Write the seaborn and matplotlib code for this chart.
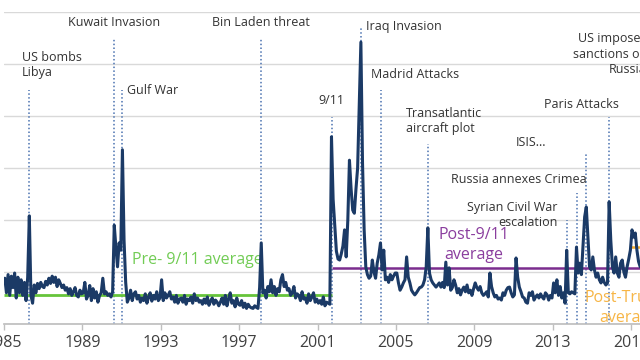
import numpy as np
import pandas as pd
import matplotlib
matplotlib.use("Agg")
import matplotlib.pyplot as plt
import seaborn as sns

# --- dados (índice mensal, jan..dez) ---
gpr_1985_1992 = [
    88, 60, 95, 55, 92, 70, 98, 50, 90, 60, 85, 55,      # 1985
    80, 45, 90, 208, 55, 40, 75, 60, 78, 68, 80, 72,     # 1986
    70, 82, 75, 88, 78, 92, 80, 90, 72, 85, 78, 70,      # 1987
    75, 65, 70, 58, 68, 55, 62, 70, 55, 52, 65, 58,      # 1988
    60, 80, 48, 55, 74, 45, 68, 50, 62, 42, 55, 60,      # 1989
    88, 58, 62, 55, 58, 52, 62, 190, 148, 110, 156, 142, # 1990
    335, 161, 80, 42, 50, 65, 45, 58, 62, 48, 55, 42,    # 1991
    50, 45, 58, 40, 52, 60, 44, 55, 48, 62, 45, 50,      # 1992
]
gpr_1993_2000 = [
    85, 45, 60, 50, 55, 62, 48, 52, 42, 55, 40, 48,      # 1993
    50, 42, 55, 38, 48, 45, 52, 40, 58, 45, 50, 42,      # 1994
    45, 38, 48, 40, 52, 36, 44, 50, 38, 46, 42, 35,      # 1995
    42, 50, 38, 55, 35, 48, 60, 40, 45, 33, 50, 38,      # 1996
    36, 45, 32, 40, 30, 38, 33, 31, 30, 35, 32, 30,      # 1997
    70, 156, 60, 65, 50, 72, 62, 85, 60, 72, 55, 68,     # 1998
    62, 85, 95, 72, 80, 65, 68, 55, 60, 72, 50, 58,      # 1999
    55, 45, 62, 48, 50, 40, 58, 45, 52, 60, 42, 48,      # 2000
]
gpr_2001_2008 = [
    40, 45, 38, 52, 35, 42, 40, 38, 360, 240, 190, 140,  # 2001
    125, 123, 135, 150, 181, 129, 200, 315, 260, 219, 213, 260,  # 2002
    300, 420, 542, 310, 181, 110, 95, 88, 92, 123, 100, 88,      # 2003
    117, 133, 156, 104, 142, 85, 90, 80, 95, 85, 92, 98,  # 2004
    98, 79, 65, 71, 79, 85, 129, 90, 79, 65, 60, 56,      # 2005
    60, 65, 70, 71, 75, 85, 110, 185, 98, 85, 79, 75,     # 2006
    71, 75, 79, 71, 80, 70, 119, 75, 108, 65, 70, 85,     # 2007
    75, 60, 68, 56, 65, 71, 62, 75, 60, 65, 55, 68,       # 2008
]
gpr_2009_2017 = [
    79, 70, 65, 72, 60, 55, 58, 62, 52, 98, 72, 60,       # 2009
    52, 55, 48, 50, 46, 60, 55, 65, 70, 71, 60, 52,       # 2010
    56, 127, 90, 71, 62, 52, 50, 42, 40, 60, 55, 62,      # 2011
    46, 52, 56, 50, 58, 52, 48, 60, 56, 46, 55, 50,       # 2012
    79, 60, 85, 55, 72, 50, 60, 40, 142, 60, 58, 62,      # 2013
    60, 58, 148, 98, 117, 95, 150, 206, 225, 167, 110, 104,  # 2014
    129, 104, 90, 98, 85, 79, 90, 80, 75, 79, 235, 161,   # 2015
    110, 98, 129, 98, 90, 117, 123, 100, 90, 110, 125, 142,  # 2016
    181, 167, 175, 142, 120, 110,                         # 2017
]

media_pre_911 = 56
media_pos_911 = 108
media_pos_trump = 148

eventos = ["US bombs\nLibya", "Kuwait Invasion", "Gulf War", "Bin Laden threat",
           "9/11", "Iraq Invasion", "Madrid Attacks", "Transatlantic\naircraft plot",
           "Syrian Civil War\nescalation", "Russia annexes Crimea", "ISIS...",
           "Paris Attacks", "US imposes\nsanctions on\nRussia"]
datas_eventos = [1986.29, 1990.62, 1991.04, 1998.12, 2001.71, 2003.21, 2004.21,
                 2006.62, 2013.71, 2014.21, 2014.71, 2015.87, 2017.62]

# layout das anotações: (x do texto, y do texto, alinhamento, topo da linha pontilhada)
layout_eventos = [
    (1985.92, 498, "left", 450),
    (1990.62, 579, "center", 550),
    (1991.30, 450, "left", 450),
    (1998.12, 579, "center", 550),
    (2001.70, 429, "center", 398),
    (2003.47, 573, "left", 569),
    (2005.97, 479, "center", 450),
    (2005.50, 390, "left", 346),
    (2013.25, 210, "right", 200),
    (2011.25, 277, "center", 252),
    (2011.90, 350, "center", 329),
    (2014.44, 423, "center", 398),
    (2017.80, 519, "right", 460),
]

# --- montagem dos dados ---
valores = gpr_1985_1992 + gpr_1993_2000 + gpr_2001_2008 + gpr_2009_2017
df = pd.DataFrame({"ano": 1985 + (np.arange(len(valores)) + 0.5) / 12,
                   "gpr": valores})

sns.set_theme(style="whitegrid")
plt.rcParams["font.family"] = ["Open Sans", "DejaVu Sans"]

fig = plt.figure(figsize=(6.4, 3.6), dpi=100)
ax = fig.add_axes([4 / 640, 36 / 360, 1.05, 312 / 360])
px_ano = 19.6

sns.lineplot(data=df, x="ano", y="gpr", color="#1b3a66", linewidth=2.2, ax=ax, zorder=4)

# médias
ax.hlines(media_pre_911, 1985, 2001.71, color="#66c43a", linewidth=2, zorder=3)
ax.hlines(media_pos_911, 2001.71, 2020, color="#7b2d8e", linewidth=1.8, zorder=3)
ax.hlines(media_pos_trump, 2017.0, 2020, color="#f6b030", linewidth=1.8, zorder=3)

ax.text(1991.53, 123, "Pre- 9/11 average", color="#72cc55", fontsize=11.5, va="center")
ax.text(2008.98, 152, "Post-9/11\naverage", color="#8a3d9e", fontsize=11.5,
        ha="center", va="center", linespacing=1.3)
ax.text(2016.85, 31, "Post-Trump\naverage", color="#f7b545", fontsize=11.5,
        ha="center", va="center", linespacing=1.3)

# eventos
for nome, data, (tx, ty, ha, topo) in zip(eventos, datas_eventos, layout_eventos):
    ax.vlines(data, 0, topo, color="#4a72b0", linestyles=(0, (1, 1.5)), linewidth=1.1, zorder=2)
    ax.text(tx, ty, nome, fontsize=9, color="#333333", ha=ha, va="center",
            multialignment=ha, linespacing=1.25, zorder=5)

ax.set_xlim(1985, 1985 + 1.05 * 640 / px_ano)
ax.set_ylim(0, 600)
ax.set_xticks(list(range(1985, 2018, 4)))
ax.set_yticks(list(range(0, 601, 100)))
ax.set_yticklabels([])
ax.set_xlabel("")
ax.set_ylabel("")
ax.grid(axis="x", visible=False)
ax.grid(axis="y", color="#d9d9d9", linewidth=1)
ax.tick_params(axis="x", labelsize=11.5, colors="#404040", length=4, width=1,
               color="#bfbfbf", direction="out", bottom=True, pad=4)
ax.tick_params(axis="y", length=0)
for lado in ["top", "right", "left"]:
    ax.spines[lado].set_visible(False)
ax.spines["bottom"].set_color("#bfbfbf")
ax.set_facecolor("white")

fig.savefig("out.png", dpi=100)
